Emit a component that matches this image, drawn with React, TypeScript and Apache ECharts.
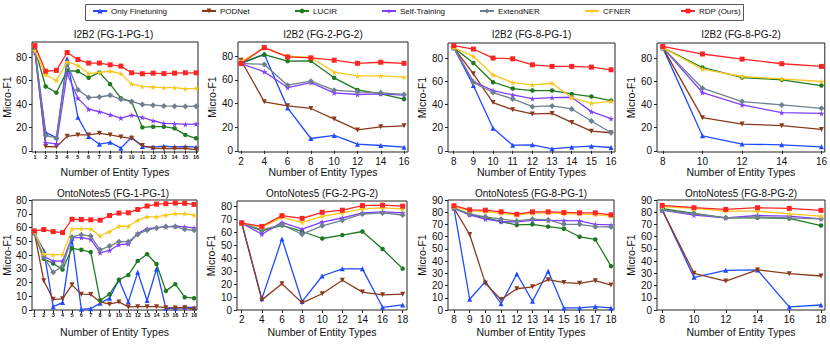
import React, { useEffect, useRef } from 'react';
import * as echarts from 'echarts';

const SERIES_NAMES = ['Only Finetuning', 'PODNet', 'LUCIR', 'Self-Training', 'ExtendNER', 'CFNER', 'RDP (Ours)'];
const COLORS = ['#1f4bff', '#8b3a1e', '#1f7a1f', '#7f3fff', '#708090', '#f7c81e', '#ff2424'];

const TITLES = [
  'I2B2 (FG-1-PG-1)', 'I2B2 (FG-2-PG-2)', 'I2B2 (FG-8-PG-1)', 'I2B2 (FG-8-PG-2)',
  'OntoNotes5 (FG-1-PG-1)', 'OntoNotes5 (FG-2-PG-2)', 'OntoNotes5 (FG-8-PG-1)', 'OntoNotes5 (FG-8-PG-2)',
];

// x categories (number of entity types)
const X_1_16 = [1, 2, 3, 4, 5, 6, 7, 8, 9, 10, 11, 12, 13, 14, 15, 16];
const X_2_16 = [2, 4, 6, 8, 10, 12, 14, 16];
const X_8_16 = [8, 9, 10, 11, 12, 13, 14, 15, 16];
const X_8_16_2 = [8, 10, 12, 14, 16];
const X_1_18 = [1, 2, 3, 4, 5, 6, 7, 8, 9, 10, 11, 12, 13, 14, 15, 16, 17, 18];
const X_2_18 = [2, 4, 6, 8, 10, 12, 14, 16, 18];
const X_8_18 = [8, 9, 10, 11, 12, 13, 14, 15, 16, 17, 18];
const X_8_18_2 = [8, 10, 12, 14, 16, 18];

// y tick labels
const Y_TICKS_20 = [0, 20, 40, 60, 80];
const Y_TICKS_80 = [0, 10, 20, 30, 40, 50, 60, 70, 80];
const Y_TICKS_90 = [0, 10, 20, 30, 40, 50, 60, 70, 80, 90];

// I2B2 FG-1-PG-1
const P1_OFT = [85.6, 15.8, 11.3, 78.6, 28.6, 12.2, 5.7, 7.3, 2.3, 11.6, 3.7, 3.1, 4.0, 3.4, 3.7, 3.1];
const P1_POD = [85.6, 3.7, 3.4, 12.4, 13.6, 13.6, 15.0, 13.6, 11.9, 10.7, 4.5, 2.3, 2.0, 2.0, 2.0, 1.1];
const P1_LUC = [87.0, 55.0, 49.7, 68.4, 68.0, 62.5, 67.0, 57.0, 45.0, 42.0, 20.0, 20.6, 20.6, 19.2, 13.6, 10.7];
const P1_SLF = [84.0, 7.0, 6.0, 66.0, 45.0, 35.6, 33.4, 30.8, 28.0, 30.5, 28.6, 25.7, 23.5, 23.2, 22.6, 22.9];
const P1_EXT = [85.6, 13.0, 11.0, 74.3, 52.3, 45.5, 46.0, 47.5, 44.0, 42.0, 39.6, 39.0, 38.4, 38.2, 37.9, 38.2];
const P1_CFN = [85.6, 65.0, 60.0, 76.0, 73.0, 66.0, 67.0, 68.0, 66.0, 57.0, 55.0, 54.5, 54.0, 54.0, 53.0, 53.4];
const P1_RDP = [89.9, 68.0, 68.7, 84.0, 78.0, 75.0, 75.0, 73.5, 72.4, 66.7, 65.9, 66.4, 66.0, 66.4, 66.7, 66.7];

// I2B2 FG-2-PG-2
const P2_OFT = [73.8, 81.7, 36.3, 10.4, 13.0, 5.6, 4.5, 3.1];
const P2_POD = [76.6, 41.4, 38.0, 35.8, 26.8, 17.7, 20.3, 21.1];
const P2_LUC = [74.4, 81.4, 75.8, 76.0, 61.7, 51.5, 48.2, 43.7];
const P2_SLF = [73.8, 66.8, 53.5, 57.7, 49.0, 47.6, 48.2, 47.0];
const P2_EXT = [74.0, 73.0, 55.5, 58.9, 51.3, 49.9, 49.0, 47.6];
const P2_CFN = [75.5, 87.0, 80.0, 78.9, 66.5, 63.4, 63.4, 62.3];
const P2_RDP = [73.8, 87.3, 79.4, 78.6, 76.6, 74.0, 74.9, 74.0];

// I2B2 FG-8-PG-1
const P3_OFT = [89, 56.3, 19.4, 4.9, 5.2, 1.7, 3.2, 4.0, 2.9];
const P3_POD = [89, 66.4, 41.6, 35.5, 31.8, 32.3, 24.5, 17.0, 15.6];
const P3_LUC = [89, 75.7, 59.2, 53.7, 52.0, 52.0, 49.1, 46.8, 43.3];
const P3_SLF = [89, 59.8, 52.0, 48.2, 45.0, 45.9, 46.2, 33.8, 27.7];
const P3_EXT = [89, 58.9, 50.3, 44.8, 38.1, 38.7, 36.1, 25.7, 15.6];
const P3_CFN = [89, 81.4, 65.6, 58.9, 56.9, 58.3, 45.9, 41.0, 42.7];
const P3_RDP = [90.7, 87.8, 80.0, 79.4, 74.2, 72.8, 72.8, 72.2, 69.9];

// I2B2 FG-8-PG-2
const P4_OFT = [89, 13.0, 5.8, 5.2, 3.5];
const P4_POD = [89, 28.6, 23.1, 21.7, 18.5];
const P4_LUC = [89, 71.9, 63.2, 61.2, 56.3];
const P4_SLF = [89, 50.3, 39.6, 32.9, 32.3];
const P4_EXT = [89, 54.0, 42.5, 39.6, 36.7];
const P4_CFN = [89, 70.5, 64.1, 62.1, 59.8];
const P4_RDP = [90.0, 83.5, 79.1, 75.1, 72.8];

// OntoNotes5 FG-1-PG-1
const P5_OFT = [56.3, 43.3, 2.4, 5.4, 52.1, 0.5, 1.0, 4.9, 8.6, 22.0, 5.9, 27.4, 6.9, 29.8, 1.2, 1.2, 2.0, 1.7];
const P5_POD = [56.3, 21.3, 7.8, 8.1, 18.3, 11.5, 11.3, 5.9, 4.2, 5.9, 2.2, 2.4, 2.4, 2.4, 1.7, 1.5, 1.7, 0.7];
const P5_LUC = [55.8, 37.2, 33.8, 29.4, 44.8, 43.8, 42.1, 7.1, 11.5, 22.0, 25.4, 35.7, 40.6, 33.5, 13.9, 18.8, 9.3, 8.6];
const P5_SLF = [56.3, 39.1, 35.5, 35.5, 52.6, 52.6, 51.4, 41.6, 43.3, 47.5, 48.0, 55.8, 59.2, 59.9, 60.4, 60.9, 60.4, 59.7];
const P5_EXT = [56.3, 38.7, 27.4, 31.8, 53.1, 54.8, 53.8, 43.8, 46.5, 49.7, 49.7, 55.0, 58.0, 59.7, 60.7, 60.7, 58.7, 58.0];
const P5_CFN = [57.0, 40.9, 40.1, 40.4, 59.0, 59.2, 59.0, 53.8, 57.0, 60.9, 60.9, 65.3, 67.8, 67.8, 69.0, 70.0, 70.0, 69.0];
const P5_RDP = [57.5, 58.5, 57.0, 56.3, 66.0, 65.8, 65.6, 65.3, 68.7, 70.5, 70.7, 73.1, 75.6, 77.0, 77.3, 77.8, 77.6, 76.8];

// OntoNotes5 FG-2-PG-2
const P6_OFT = [67, 8.6, 54.8, 6.5, 26.2, 31.7, 31.7, 2.1, 3.9];
const P6_POD = [67, 7.8, 20.3, 5.5, 12.5, 22.9, 13.8, 11.7, 12.2];
const P6_LUC = [67, 61.0, 65.2, 60.5, 55.1, 57.7, 60.5, 47.0, 31.9];
const P6_SLF = [67, 58.4, 67.5, 62.3, 67.8, 70.9, 74.8, 75.6, 74.8];
const P6_EXT = [67, 61.8, 65.7, 58.4, 64.9, 69.1, 74.0, 74.8, 73.2];
const P6_CFN = [67, 63.9, 71.4, 67.5, 72.2, 74.8, 77.9, 78.7, 77.9];
const P6_RDP = [67, 64.4, 72.7, 70.6, 75.3, 76.9, 80.5, 80.8, 80.0];

// OntoNotes5 FG-8-PG-1
const P7_OFT = [83.4, 8.8, 23.2, 5.2, 29.5, 7.2, 31.8, 1.7, 1.7, 2.8, 1.7];
const P7_POD = [83.4, 61.8, 21.8, 8.6, 17.4, 19.0, 24.8, 22.4, 21.8, 24.0, 20.4];
const P7_LUC = [83.4, 77.9, 75.6, 72.3, 69.6, 70.1, 68.2, 66.5, 59.9, 57.7, 35.9];
const P7_SLF = [83.4, 77.9, 74.3, 72.3, 72.1, 73.4, 73.4, 73.2, 72.9, 70.1, 69.6];
const P7_EXT = [83.4, 78.7, 76.2, 74.3, 72.9, 74.3, 73.7, 70.1, 70.1, 68.2, 67.9];
const P7_CFN = [84.5, 81.2, 80.6, 79.2, 77.6, 79.2, 79.5, 78.7, 78.7, 78.1, 76.8];
const P7_RDP = [85.3, 82.0, 81.7, 80.3, 78.4, 80.3, 80.3, 79.8, 79.5, 79.5, 77.9];

// OntoNotes5 FG-8-PG-2
const P8_OFT = [81.8, 26.7, 32.5, 32.8, 2.5, 4.1];
const P8_POD = [81.8, 30.0, 23.7, 32.8, 29.7, 27.8];
const P8_LUC = [82.9, 79.0, 75.4, 75.4, 74.9, 69.1];
const P8_SLF = [81.8, 77.6, 75.4, 77.3, 76.8, 74.6];
const P8_EXT = [81.8, 78.7, 75.4, 76.0, 75.4, 74.6];
const P8_CFN = [84.5, 83.1, 80.9, 80.9, 78.7, 76.8];
const P8_RDP = [85.6, 83.7, 82.3, 83.7, 83.1, 81.5];

const PANEL_X = [X_1_16, X_2_16, X_8_16, X_8_16_2, X_1_18, X_2_18, X_8_18, X_8_18_2];
const PANEL_Y = [
  [P1_OFT, P1_POD, P1_LUC, P1_SLF, P1_EXT, P1_CFN, P1_RDP],
  [P2_OFT, P2_POD, P2_LUC, P2_SLF, P2_EXT, P2_CFN, P2_RDP],
  [P3_OFT, P3_POD, P3_LUC, P3_SLF, P3_EXT, P3_CFN, P3_RDP],
  [P4_OFT, P4_POD, P4_LUC, P4_SLF, P4_EXT, P4_CFN, P4_RDP],
  [P5_OFT, P5_POD, P5_LUC, P5_SLF, P5_EXT, P5_CFN, P5_RDP],
  [P6_OFT, P6_POD, P6_LUC, P6_SLF, P6_EXT, P6_CFN, P6_RDP],
  [P7_OFT, P7_POD, P7_LUC, P7_SLF, P7_EXT, P7_CFN, P7_RDP],
  [P8_OFT, P8_POD, P8_LUC, P8_SLF, P8_EXT, P8_CFN, P8_RDP],
];
const PANEL_YTICKS = [Y_TICKS_20, Y_TICKS_20, Y_TICKS_20, Y_TICKS_20, Y_TICKS_80, Y_TICKS_80, Y_TICKS_90, Y_TICKS_90];

// layout (pixels) : left, top, width, height ; axis extents
const LAYOUT = [
  { l: 29, t: 42, w: 169, h: 110, xMin: 0.73, xMax: 16.18, yMin: -1, yMax: 93, small: true },
  { l: 238, t: 42, w: 170, h: 110, xMin: 1.74, xMax: 16.34, yMin: -1, yMax: 92 },
  { l: 448, t: 43, w: 167, h: 109, xMin: 7.71, xMax: 16.2, yMin: -1, yMax: 93 },
  { l: 657, t: 43, w: 168, h: 109, xMin: 7.71, xMax: 16.17, yMin: -1, yMax: 93 },
  { l: 29, t: 200, w: 168, h: 110, xMin: 0.75, xMax: 18.31, yMin: 0, yMax: 80, small: true },
  { l: 237, t: 201, w: 170, h: 109, xMin: 1.53, xMax: 18.43, yMin: 0, yMax: 84 },
  { l: 448, t: 200, w: 166, h: 110, xMin: 7.62, xMax: 18.19, yMin: 0, yMax: 90 },
  { l: 657, t: 200, w: 168, h: 110, xMin: 7.67, xMax: 18.25, yMin: 0, yMax: 90 },
];

const STAR = 'path://M50,0 L61,35 L98,35 L68,57 L79,91 L50,70 L21,91 L32,57 L2,35 L39,35 Z';
const SYMBOLS: any[] = [
  { symbol: 'triangle', size: 5, rotate: 0 },
  { symbol: 'triangle', size: 5, rotate: 180 },
  { symbol: 'circle', size: 4.5, rotate: 0 },
  { symbol: STAR, size: 6, rotate: 0 },
  { symbol: 'diamond', size: 6, rotate: 0 },
  { symbol: STAR, size: 6, rotate: 0 },
  { symbol: 'rect', size: 5, rotate: 0 },
];

const LEGEND_LEFT = [92, 201, 294, 381, 479, 584, 680];
const FONT = '"Liberation Sans", Arial, Helvetica, sans-serif';

export default function App() {
  const ref = useRef<HTMLDivElement>(null);
  useEffect(() => {
    if (!ref.current) return;
    const chart = echarts.init(ref.current, undefined, { renderer: 'svg' });
    const grids: any[] = [];
    const xAxes: any[] = [];
    const yAxes: any[] = [];
    const series: any[] = [];
    const graphics: any[] = [];

    LAYOUT.forEach((L, i) => {
      grids.push({ left: L.l, top: L.t, width: L.w, height: L.h, show: true, borderColor: '#222', borderWidth: 1, backgroundColor: 'transparent' });
      const row2 = i >= 4;
      xAxes.push({
        type: 'value', gridIndex: i, min: L.xMin, max: L.xMax,
        name: 'Number of Entity Types', nameLocation: 'middle', nameGap: row2 ? 16 : 14,
        nameTextStyle: { fontSize: 10.5, color: '#111', fontFamily: FONT },
        axisLine: { show: false },
        axisTick: { show: true, length: 3, lineStyle: { color: '#222' }, customValues: PANEL_X[i] },
        axisLabel: {
          customValues: PANEL_X[i], color: '#111', fontFamily: FONT,
          fontSize: L.small ? 5.5 : 10, fontWeight: L.small ? 'bold' : 'normal',
          margin: L.small ? 2 : 4,
        },
        splitLine: { show: false },
      });
      yAxes.push({
        type: 'value', gridIndex: i, min: L.yMin, max: L.yMax,
        name: 'Micro-F1', nameLocation: 'middle', nameGap: 16, nameRotate: 90,
        nameTextStyle: { fontSize: 10.5, color: '#111', fontFamily: FONT },
        axisLine: { show: false },
        axisTick: { show: true, length: 3, lineStyle: { color: '#222' }, customValues: PANEL_YTICKS[i] },
        axisLabel: { customValues: PANEL_YTICKS[i], color: '#111', fontFamily: FONT, fontSize: 10, margin: 5 },
        splitLine: { show: false },
      });
      PANEL_Y[i].forEach((vals, s) => {
        series.push({
          type: 'line', name: SERIES_NAMES[s], xAxisIndex: i, yAxisIndex: i,
          data: PANEL_X[i].map((x, k) => [x, vals[k]]),
          symbol: SYMBOLS[s].symbol, symbolSize: SYMBOLS[s].size, symbolRotate: SYMBOLS[s].rotate,
          showSymbol: true,
          lineStyle: { width: 1.3, color: COLORS[s] },
          itemStyle: { color: COLORS[s], borderWidth: 0 },
          emphasis: { disabled: true },
          z: 2 + s,
        });
      });
      graphics.push({
        type: 'text', x: L.l + L.w / 2, y: row2 ? 193 : 34,
        style: { text: TITLES[i], font: `10px ${FONT}`, fill: '#111', align: 'center', verticalAlign: 'middle' },
      });
    });

    graphics.push({
      type: 'rect', shape: { x: 85.5, y: 4.5, width: 658, height: 16 },
      style: { fill: '#fff', stroke: '#555', lineWidth: 1 }, z: -1,
    });

    const legends = SERIES_NAMES.map((n, i) => ({
      data: [n], left: LEGEND_LEFT[i], top: 7, itemWidth: 14, itemHeight: 6, itemGap: 0, padding: 0,
      textStyle: { fontSize: 8, color: '#111', fontFamily: FONT, padding: [0, 0, 0, -1] },
      selectedMode: false,
    }));

    chart.setOption({
      animation: false,
      backgroundColor: '#fff',
      textStyle: { fontFamily: FONT },
      grid: grids,
      xAxis: xAxes,
      yAxis: yAxes,
      series,
      legend: legends,
      graphic: { elements: graphics },
    });
    return () => chart.dispose();
  }, []);
  return <div ref={ref} style={{ position: 'absolute', left: 0, top: 0, width: 830, height: 345 }} />;
}
